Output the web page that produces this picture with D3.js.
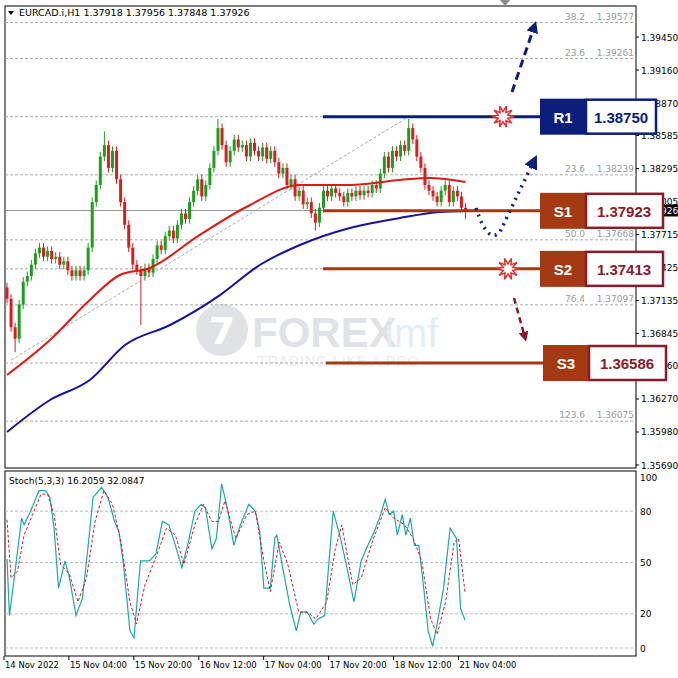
<!DOCTYPE html>
<html><head><meta charset="utf-8">
<script src="https://cdn.jsdelivr.net/npm/d3@7"></script>
<style>body{margin:0;background:#fff}svg{display:block}</style>
</head><body><svg id="c" width="678" height="678"></svg>
<script>
const closes=[1.3715,1.3690,1.3680,1.3710,1.3730,1.3735,1.3745,1.3755,1.3760,1.3752,1.3757,1.3750,1.3752,1.3745,1.3748,1.3740,1.3735,1.3740,1.3735,1.3740,
1.3760,1.3800,1.3815,1.3840,1.3850,1.3830,1.3845,1.3820,1.3800,1.3780,1.3760,1.3745,1.3740,1.3735,1.3742,1.3738,1.3750,1.3762,1.3758,1.3770,
1.3775,1.3768,1.3780,1.3790,1.3785,1.3800,1.3810,1.3820,1.3805,1.3815,1.3830,1.3845,1.3865,1.3850,1.3835,1.3845,1.3855,1.3848,1.3850,1.3840,
1.3852,1.3845,1.3840,1.3848,1.3838,1.3845,1.3835,1.3825,1.3830,1.3815,1.3820,1.3805,1.3810,1.3798,1.3800,1.3790,1.3782,1.3795,1.3810,1.3805,
1.3812,1.3808,1.3805,1.3800,1.3808,1.3805,1.3810,1.3806,1.3810,1.3808,1.3815,1.3812,1.3825,1.3840,1.3830,1.3845,1.3840,1.3850,1.3845,1.3865,
1.3855,1.3840,1.3830,1.3815,1.3810,1.3805,1.3800,1.3810,1.3815,1.3800,1.3810,1.3805,1.3795,1.3792];
const firstOpen=1.3725;
const wickOverrides=[[2,null,1.3668],[24,1.3862,null],[33,null,1.3692],[52,1.3873,null],[99,1.3873,null],[76,null,1.3775],[113,null,1.3785]];
const maFast=[[0,1.36481],[10.6,1.36788],[20.4,1.37140],[27.8,1.37359],[35.2,1.37421],[47.5,1.37711],[59.9,1.37974],[72.2,1.38150],[84.5,1.38150],[96.8,1.38194],[104.2,1.38211],[113,1.38176]];
const maSlow=[[0,1.35980],[10.6,1.36261],[20.4,1.36437],[29.1,1.36744],[40.2,1.36920],[52.5,1.37183],[62.3,1.37447],[72.2,1.37623],[84.5,1.37772],[96.8,1.37860],[106.7,1.37913],[113,1.37921]];
const fibLevels=[["38.2","1.39577",1.39577],["23.6","1.39261",1.39261],["","",1.38750],["23.6","1.38239",1.38239],["50.0","1.37668",1.37668],["","",1.37413],["76.4","1.37097",1.37097],["","",1.36586],["123.6","1.36075",1.36075]];
const priceTicks=[1.39450,1.39160,1.38870,1.38585,1.38295,1.38005,1.37715,1.37425,1.37135,1.36845,1.36560,1.36270,1.35980,1.35690];
const levels=[["R1",1.38750,"#0b1e7a","#0b1e7a"],["S1",1.37923,"#a33a14","#8b1a2b"],["S2",1.37413,"#a33a14","#8b1a2b"],["S3",1.36586,"#a33a14","#8b1a2b"]];
const stochK=[[0,52],[0.6,19],[2,45],[3.6,76],[4.2,72],[5.8,80],[7.9,92],[9.5,92],[10.6,88],[11.6,70],[12.7,35],[14.3,51],[15.4,41],[17,19],[18.6,29],[20.1,62],[21.2,88],[23.3,94],[24.9,88],[26.5,74],[27.6,68],[28.7,49],[30.3,10],[31.3,6],[32.9,51],[35.1,51],[36.7,55],[38.3,74],[39.9,72],[41.5,60],[43.1,47],[44.7,62],[46.3,80],[47.9,84],[48.9,82],[50.5,58],[51.6,64],[52.9,96],[54.3,82],[55.9,60],[57.5,72],[59.6,84],[61.2,80],[62.3,68],[63.3,35],[64.9,35],[66,64],[66.5,66],[68.1,45],[69.7,25],[71.3,10],[72.4,21],[74,21],[75.6,14],[76.7,17],[78.3,19],[79.3,49],[80.4,80],[82,66],[83.6,49],[85.5,27],[87.3,51],[88.9,60],[90.5,68],[92.1,78],[93.2,87],[94.2,78],[95.3,80],[96.2,66],[97.4,78],[98.3,66],[99.4,76],[100.4,60],[101.5,60],[102.8,33],[103.8,10],[104.9,1],[106,14],[107.6,35],[109.2,70],[110.8,64],[111.8,23],[112.9,16.2]];
const stochD=[[0,75],[1,41],[2.6,45],[4.2,66],[6.3,78],[8.4,90],[10,90],[11.6,78],[13.2,49],[15.4,43],[17.5,27],[19.6,41],[21.7,74],[23.9,92],[26,84],[28.1,62],[30.3,27],[31.9,14],[34,37],[36.7,53],[39.3,70],[41.5,66],[43.6,49],[46.3,72],[48.4,84],[50.5,74],[52.1,74],[53.7,86],[56.4,64],[59.1,78],[61.2,80],[63.3,51],[64.9,33],[67.1,62],[69.2,49],[71.9,21],[74,21],[76.1,17],[78.8,27],[80.9,58],[82.5,72],[85.2,37],[87.3,41],[90,62],[93.2,82],[95.3,76],[98,72],[100.1,64],[102.2,51],[104.4,17],[106,8],[108.1,27],[110.2,62],[111.3,64],[112.9,32.1]];
const timeLabels=[[0,"14 Nov 2022"],[16,"15 Nov 04:00"],[32,"15 Nov 20:00"],[48,"16 Nov 12:00"],[64,"17 Nov 04:00"],[80,"17 Nov 20:00"],[96,"18 Nov 12:00"],[112,"21 Nov 04:00"]];
const stochTicks=[100,80,50,20,0];

const svg=d3.select("#c");
const F="Tahoma, 'DejaVu Sans', sans-serif";
const L=5,R=636;
const x=d3.scaleLinear().domain([0,113]).range([7,465.5]);
const y=d3.scaleLinear().domain([1.35690,1.39450]).range([465,37]);
const ys=d3.scaleLinear().domain([0,100]).range([648,477]);

svg.append("rect").attr("x",0).attr("y",0).attr("width",678).attr("height",678).attr("fill","#fff");
svg.append("rect").attr("x",L).attr("y",6).attr("width",R-L).attr("height",462).attr("fill","none").attr("stroke","#000");
svg.append("rect").attr("x",L).attr("y",471).attr("width",R-L).attr("height",185).attr("fill","none").attr("stroke","#000");

// watermark
const wm=svg.append("g").attr("opacity",0.22);
wm.append("circle").attr("cx",222).attr("cy",330).attr("r",26).attr("fill","#7a7f8c");
wm.append("text").attr("x",222).attr("y",344).attr("text-anchor","middle").attr("font-family",F).attr("font-weight","bold").attr("font-size",38).attr("fill","#fff").text("7");
wm.append("text").attr("x",252).attr("y",347).attr("font-family","'Liberation Sans Narrow', Arial, sans-serif").attr("font-weight","bold").attr("font-size",42).attr("fill","#7a7f8c").text("FOREX");
wm.append("text").attr("x",385).attr("y",347).attr("font-family","Arial, sans-serif").attr("font-size",40).attr("fill","#8ab0d8").text("imf");
wm.append("text").attr("x",258).attr("y",366).attr("font-family","Arial, sans-serif").attr("font-size",14).attr("fill","#9aa").attr("letter-spacing",1).text("TRADING LIKE A PRO");

fibLevels.forEach(f=>{
  svg.append("line").attr("x1",L).attr("x2",R).attr("y1",y(f[2])).attr("y2",y(f[2])).attr("stroke","#aaa").attr("stroke-dasharray","3,2");
  if(f[0]){
    svg.append("text").attr("x",585).attr("y",y(f[2])-3).attr("text-anchor","end").attr("font-family",F).attr("font-size",9).attr("fill","#999").text(f[0]);
    svg.append("text").attr("x",634).attr("y",y(f[2])-3).attr("text-anchor","end").attr("font-family",F).attr("font-size",9).attr("fill","#999").text(f[1]);
  }
});
svg.append("line").attr("x1",x(1)).attr("y1",y(1.36612)).attr("x2",x(99)).attr("y2",y(1.38750)).attr("stroke","#aaa").attr("stroke-dasharray","3,2");
svg.append("line").attr("x1",L).attr("x2",R).attr("y1",y(1.37926)).attr("y2",y(1.37926)).attr("stroke","#999");

const ov={};wickOverrides.forEach(w=>ov[w[0]]=w);
closes.forEach((c,i)=>{
  const o=i?closes[i-1]:firstOpen;
  let hi=Math.max(o,c)+0.0004, lo=Math.min(o,c)-0.0004;
  if(ov[i]){if(ov[i][1])hi=ov[i][1];if(ov[i][2])lo=ov[i][2];}
  const col=c>=o?"#1f9d1f":"#d42020";
  svg.append("line").attr("x1",x(i)).attr("x2",x(i)).attr("y1",y(hi)).attr("y2",y(lo)).attr("stroke",col);
  svg.append("rect").attr("x",x(i)-1.5).attr("width",3).attr("y",y(Math.max(o,c))).attr("height",Math.max(1,Math.abs(y(o)-y(c)))).attr("fill",col);
});
const line=d3.line().x(d=>x(d[0])).y(d=>y(d[1])).curve(d3.curveMonotoneX);
svg.append("path").attr("d",line(maFast)).attr("fill","none").attr("stroke","#e01818").attr("stroke-width",2);
svg.append("path").attr("d",line(maSlow)).attr("fill","none").attr("stroke","#1414a0").attr("stroke-width",2);

priceTicks.forEach(p=>{
  svg.append("line").attr("x1",R).attr("x2",R+3).attr("y1",y(p)).attr("y2",y(p)).attr("stroke","#000");
  svg.append("text").attr("x",R+5).attr("y",y(p)+3.5).attr("font-family",F).attr("font-size",9).attr("fill","#000").text(p.toFixed(5));
});
svg.append("rect").attr("x",R).attr("y",y(1.37926)-6).attr("width",42).attr("height",12).attr("fill","#000");
svg.append("text").attr("x",R+5).attr("y",y(1.37926)+3.5).attr("font-family",F).attr("font-size",9).attr("fill","#fff").text("1.37926");

levels.forEach((l,k)=>{
  const yy=y(l[1]);
  svg.append("line").attr("x1",k==3?326:323).attr("x2",545).attr("y1",yy).attr("y2",yy).attr("stroke",l[2]).attr("stroke-width",3);
  const bx=k==3?543:540;
  svg.append("rect").attr("x",bx).attr("y",yy-18).attr("width",46).attr("height",36).attr("fill",l[2]);
  svg.append("rect").attr("x",bx+46).attr("y",yy-17).attr("width",k==0?70:77).attr("height",34).attr("fill","#fff").attr("stroke",l[3]).attr("stroke-width",2.5);
  svg.append("text").attr("x",bx+23).attr("y",yy+6).attr("text-anchor","middle").attr("font-family","Arial, sans-serif").attr("font-weight","bold").attr("font-size",15).attr("fill","#fff").text(l[0]);
  svg.append("text").attr("x",bx+46+(k==0?35:38)).attr("y",yy+6).attr("text-anchor","middle").attr("font-family","Arial, sans-serif").attr("font-weight","bold").attr("font-size",15).attr("fill",l[3]).text(l[1].toFixed(5));
});

const defs=svg.append("defs");
[["an","#0b1e7a"],["am","#8b1a2b"]].forEach(a=>defs.append("marker").attr("id",a[0]).attr("viewBox","0 0 10 10").attr("refX",2).attr("refY",5).attr("markerWidth",4).attr("markerHeight",4).attr("orient","auto").append("path").attr("d","M0,0L10,5L0,10z").attr("fill",a[1]));
svg.append("path").attr("d","M512,92 L533,30").attr("stroke","#0b1e7a").attr("stroke-width",3).attr("stroke-dasharray","8,5").attr("marker-end","url(#an)");
svg.append("path").attr("d","M476,208 Q488,245 500,232 Q515,200 532,165").attr("fill","none").attr("stroke","#0b1e7a").attr("stroke-width",3.5).attr("stroke-dasharray","2,5").attr("marker-end","url(#an)");
svg.append("path").attr("d","M514,298 L524,334").attr("stroke","#8b1a2b").attr("stroke-width",2.5).attr("stroke-dasharray","6,4").attr("marker-end","url(#am)");
function star(cx,cy){const pts=[];for(let i=0;i<20;i++){const r=i%2?5:11;const a=i*Math.PI/10;pts.push([cx+r*Math.cos(a),cy+r*Math.sin(a)]);}
svg.append("polygon").attr("points",pts.map(p=>p.join(",")).join(" ")).attr("fill","#fff").attr("stroke","#e03030").attr("stroke-width",1.5);}
star(503,y(1.38750));star(508,y(1.37413));
svg.append("path").attr("d","M500,0 L510,0 L505,6z").attr("fill","#888");

svg.append("path").attr("d","M8,11 L14,11 L11,15z").attr("fill","#000");
svg.append("text").attr("x",19).attr("y",16).attr("font-family",F).attr("font-size",9.5).attr("fill","#000").text("EURCAD.i,H1  1.37918 1.37956 1.37848 1.37926");

stochTicks.forEach(t=>{
  if(t!==100) svg.append("line").attr("x1",L).attr("x2",R).attr("y1",ys(t)).attr("y2",ys(t)).attr("stroke","#bbb").attr("stroke-dasharray","3,2");
  svg.append("text").attr("x",R+4).attr("y",ys(t)+3.5).attr("font-family",F).attr("font-size",9).text(t);
});
const sl=d3.line().x(d=>x(d[0])).y(d=>ys(d[1]));
svg.append("path").attr("d",sl(stochK)).attr("fill","none").attr("stroke","#20a8a8").attr("stroke-width",1.2);
svg.append("path").attr("d",sl(stochD)).attr("fill","none").attr("stroke","#d02020").attr("stroke-width",1).attr("stroke-dasharray","3,2");
svg.append("text").attr("x",9).attr("y",484).attr("font-family",F).attr("font-size",9).text("Stoch(5,3,3) 16.2059 32.0847");

timeLabels.forEach(t=>{
  const xx=x(t[0])-3;
  svg.append("line").attr("x1",xx).attr("x2",xx).attr("y1",656).attr("y2",660).attr("stroke","#000");
  svg.append("text").attr("x",xx+1).attr("y",668).attr("font-family",F).attr("font-size",8.5).attr("textLength",t[0]==0?54:57).attr("lengthAdjust","spacingAndGlyphs").text(t[1]);
});
</script></body></html>
